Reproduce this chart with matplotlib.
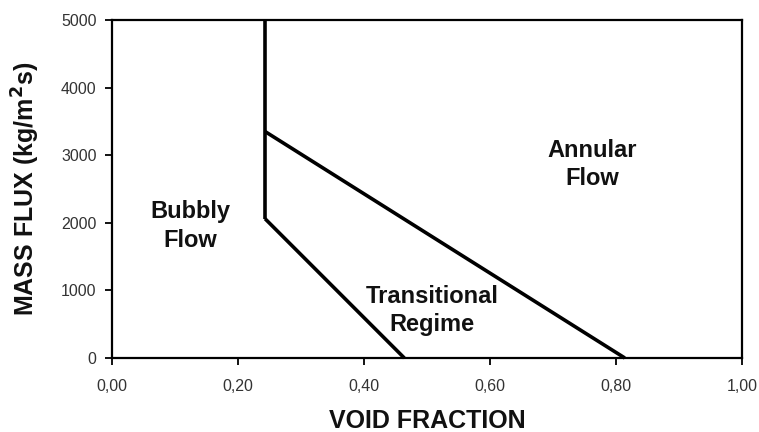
import matplotlib
matplotlib.use("Agg")
import matplotlib.pyplot as plt
from matplotlib.ticker import FuncFormatter

plt.rcParams['font.family'] = ['Liberation Sans', 'DejaVu Sans']

# Boundary lines (void fraction, mass flux)
vertical_x = [0.243, 0.243]
vertical_y = [2060, 5000]
upper_x = [0.243, 0.814]
upper_y = [3350, 0]
lower_x = [0.243, 0.464]
lower_y = [2060, 0]

region_labels = ["Bubbly\nFlow", "Annular\nFlow", "Transitional\nRegime"]
region_x = [0.124, 0.762, 0.508]
region_y = [1950, 2860, 700]

x_ticks = [0.0, 0.2, 0.4, 0.6, 0.8, 1.0]
y_ticks = [0, 1000, 2000, 3000, 4000, 5000]

fig = plt.figure(figsize=(7.59, 4.32), dpi=100)
ax = fig.add_axes([112/759, 1-358/432, 630/759, 338/432])

lw = 2.6
for xs, ys in [(vertical_x, vertical_y), (upper_x, upper_y), (lower_x, lower_y)]:
    ax.plot(xs, ys, color='black', linewidth=lw, solid_capstyle='butt', clip_on=False)

for txt, x, y in zip(region_labels, region_x, region_y):
    ax.text(x, y, txt, ha='center', va='center', fontsize=17, fontweight='bold',
            color='#111111', linespacing=1.3)

ax.set_xlim(0, 1.0)
ax.set_ylim(0, 5000)
ax.set_xticks(x_ticks)
ax.set_yticks(y_ticks)
ax.xaxis.set_major_formatter(FuncFormatter(lambda v, p: f"{v:.2f}".replace('.', ',')))
ax.yaxis.set_major_formatter(FuncFormatter(lambda v, p: f"{int(v)}"))

for s in ax.spines.values():
    s.set_linewidth(1.6)
    s.set_color('black')

ax.tick_params(axis='both', direction='out', length=5, width=1.3, colors='black',
               labelcolor='#333333', labelsize=11.5)
ax.tick_params(axis='x', pad=10)
ax.tick_params(axis='y', pad=6)

ax.set_xlabel("VOID FRACTION", fontsize=18, fontweight='bold', color='#111111', labelpad=11)
ax.set_ylabel("MASS FLUX (kg/m$^\\mathbf{2}$s)", fontsize=18, fontweight='bold', color='#111111', labelpad=14)

fig.savefig("out.png", dpi=100, facecolor='white')
